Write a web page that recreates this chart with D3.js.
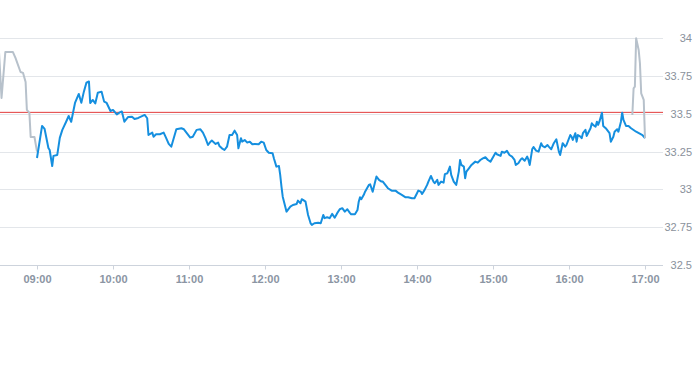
<!DOCTYPE html>
<html>
<head>
<meta charset="utf-8">
<script src="https://cdn.jsdelivr.net/npm/d3@7"></script>
<style>
  body { margin: 0; background: #fff; }
  text { font-family: "Liberation Sans", Arial, sans-serif; }
</style>
</head>
<body>
<script>
// pre-market segment (grey)
var preTimes = ["08:30", "08:32", "08:35", "08:41", "08:43", "08:47", "08:49", "08:51", "08:52", "08:54", "08:55", "08:58", "09:00"];
var preValues = [33.909, 33.605, 33.909, 33.909, 33.870, 33.777, 33.771, 33.711, 33.526, 33.506, 33.347, 33.347, 33.25];

// trading session (blue)
var mainTimes = [
    "09:00", "09:04", "09:06", "09:09", "09:10", "09:12", "09:13", "09:16", "09:18", "09:20",
    "09:23", "09:25", "09:27", "09:30", "09:33", "09:35", "09:37", "09:39", "09:41", "09:42",
    "09:44", "09:46", "09:48", "09:51", "09:53", "09:55", "09:58", "10:00", "10:03", "10:05",
    "10:07", "10:09", "10:12", "10:15", "10:17", "10:20", "10:25", "10:27", "10:28", "10:31",
    "10:32", "10:34", "10:37", "10:40", "10:42", "10:44", "10:46", "10:50", "10:54", "10:56",
    "11:01", "11:03", "11:06", "11:09", "11:11", "11:13", "11:15", "11:17", "11:18", "11:21",
    "11:23", "11:24", "11:26", "11:28", "11:30", "11:32", "11:34", "11:36", "11:38", "11:39",
    "11:41", "11:42", "11:44", "11:46", "11:48", "11:50", "11:52", "11:55", "11:57", "11:59",
    "12:01", "12:03", "12:06", "12:07", "12:09", "12:11", "12:12", "12:13", "12:14", "12:16",
    "12:17", "12:20", "12:22", "12:25", "12:26", "12:28", "12:29", "12:30", "12:32", "12:34",
    "12:36", "12:37", "12:39", "12:42", "12:44", "12:46", "12:47", "12:49", "12:51", "12:53",
    "12:55", "12:57", "12:59", "13:01", "13:03", "13:05", "13:07", "13:08", "13:11", "13:13",
    "13:14", "13:15", "13:16", "13:18", "13:19", "13:22", "13:23", "13:25", "13:27", "13:28",
    "13:30", "13:32", "13:33", "13:35", "13:37", "13:40", "13:43", "13:45", "13:48", "13:51",
    "13:53", "13:56", "13:58", "14:00", "14:01", "14:03", "14:04", "14:06", "14:08", "14:09",
    "14:11", "14:13", "14:14", "14:16", "14:17", "14:19", "14:21", "14:22", "14:24", "14:26",
    "14:27", "14:29", "14:31", "14:33", "14:34", "14:35", "14:37", "14:38", "14:39", "14:41",
    "14:43", "14:46", "14:48", "14:50", "14:52", "14:54", "14:56", "14:58", "15:00", "15:02",
    "15:03", "15:06", "15:07", "15:09", "15:11", "15:13", "15:15", "15:17", "15:18", "15:20",
    "15:22", "15:23", "15:25", "15:27", "15:28", "15:29", "15:31", "15:32", "15:34", "15:36",
    "15:38", "15:39", "15:41", "15:43", "15:44", "15:46", "15:48", "15:50", "15:52", "15:53",
    "15:55", "15:57", "15:58", "16:01", "16:02", "16:03", "16:05", "16:06", "16:07", "16:09",
    "16:10", "16:11", "16:13", "16:14", "16:15", "16:17", "16:18", "16:19", "16:21", "16:22",
    "16:23", "16:24", "16:26", "16:27", "16:29", "16:32", "16:33", "16:35", "16:36", "16:38",
    "16:39", "16:41", "16:42", "16:43", "16:45", "16:47", "16:49", "16:53", "16:58", "17:00"
];
var mainValues = [
    33.208, 33.420, 33.400, 33.274, 33.261, 33.155, 33.222, 33.228, 33.341, 33.394,
    33.448, 33.486, 33.448, 33.572, 33.632, 33.574, 33.647, 33.706, 33.714, 33.572,
    33.592, 33.569, 33.640, 33.647, 33.581, 33.572, 33.519, 33.526, 33.496, 33.508,
    33.516, 33.448, 33.480, 33.481, 33.466, 33.473, 33.493, 33.471, 33.360, 33.376,
    33.349, 33.365, 33.365, 33.376, 33.339, 33.301, 33.283, 33.398, 33.405, 33.398,
    33.343, 33.349, 33.394, 33.398, 33.376, 33.339, 33.294, 33.316, 33.323, 33.301,
    33.310, 33.288, 33.272, 33.261, 33.283, 33.360, 33.360, 33.389, 33.360, 33.272,
    33.339, 33.316, 33.327, 33.310, 33.316, 33.299, 33.301, 33.299, 33.316, 33.310,
    33.261, 33.243, 33.239, 33.206, 33.151, 33.155, 33.096, 33.019, 32.952, 32.886,
    32.853, 32.886, 32.897, 32.904, 32.926, 32.909, 32.935, 32.931, 32.919, 32.831,
    32.776, 32.765, 32.776, 32.780, 32.776, 32.831, 32.810, 32.816, 32.810, 32.838,
    32.813, 32.843, 32.869, 32.876, 32.853, 32.869, 32.845, 32.836, 32.836, 32.864,
    32.919, 32.948, 32.935, 32.964, 32.985, 33.030, 33.034, 32.985, 33.052, 33.085,
    33.063, 33.052, 33.052, 33.030, 33.008, 32.992, 32.992, 32.979, 32.964, 32.948,
    32.948, 32.942, 32.942, 32.975, 32.992, 32.985, 32.970, 32.997, 33.030, 33.052,
    33.089, 33.052, 33.041, 33.063, 33.030, 33.052, 33.045, 33.101, 33.107, 33.151,
    33.096, 33.052, 33.030, 33.118, 33.195, 33.162, 33.151, 33.074, 33.118, 33.140,
    33.162, 33.184, 33.177, 33.195, 33.206, 33.213, 33.195, 33.184, 33.213, 33.243,
    33.233, 33.222, 33.250, 33.243, 33.255, 33.228, 33.217, 33.195, 33.162, 33.173,
    33.200, 33.206, 33.190, 33.217, 33.195, 33.162, 33.268, 33.281, 33.257, 33.250,
    33.306, 33.288, 33.279, 33.294, 33.283, 33.266, 33.306, 33.332, 33.250, 33.228,
    33.306, 33.283, 33.294, 33.360, 33.349, 33.327, 33.372, 33.316, 33.360, 33.349,
    33.339, 33.372, 33.394, 33.354, 33.372, 33.405, 33.438, 33.427, 33.415, 33.448,
    33.427, 33.448, 33.508, 33.420, 33.405, 33.372, 33.316, 33.349, 33.382, 33.398,
    33.382, 33.448, 33.508, 33.460, 33.420, 33.420, 33.405, 33.382, 33.360, 33.339
];

// after-hours segment (grey)
var postTimes = ["16:50", "16:51", "16:52", "16:53", "16:55", "16:56", "16:57", "16:59", "17:00"];
var postValues = [33.493, 33.669, 33.680, 34.000, 33.923, 33.835, 33.636, 33.592, 33.339];

var previousClose = 33.51;

var yTickValues = [32.5, 32.75, 33, 33.25, 33.5, 33.75, 34];
var xTickLabels = ["09:00", "10:00", "11:00", "12:00", "13:00", "14:00", "15:00", "16:00", "17:00"];
var xStart = "08:30";
var xEnd = "17:15";

window.document.addEventListener('DOMContentLoaded', init, false);

function init() {
    var width = 693;
    var height = 365;
    var plot = {left: 0, right: 663, top: 38.3, bottom: 265};

    var parse = d3.timeParse('%H:%M');

    var x = d3.scaleTime()
        .domain([parse(xStart), parse(xEnd)])
        .range([-1, 664]);

    var y = d3.scaleLinear()
        .domain([32.5, 34])
        .range([plot.bottom, plot.top]);

    var svg = d3.select('body')
        .append('svg')
        .attr('width', width)
        .attr('height', height);

    drawGrid(svg, y, plot);
    drawXAxis(svg, x, plot, parse);
    drawYLabels(svg, y);

    svg.append('line')
        .attr('x1', plot.left)
        .attr('x2', plot.right)
        .attr('y1', y(previousClose))
        .attr('y2', y(previousClose))
        .attr('stroke', '#e23a3a')
        .attr('stroke-width', 1);

    var clip = svg.append('clipPath').attr('id', 'plot-clip')
        .append('rect')
        .attr('x', plot.left)
        .attr('y', 0)
        .attr('width', plot.right - plot.left)
        .attr('height', plot.bottom);

    var line = d3.line()
        .x((d) => x(d.t))
        .y((d) => y(d.v));

    var series = [
        {times: preTimes, values: preValues, color: '#b7c1cb'},
        {times: mainTimes, values: mainValues, color: '#158fdf'},
        {times: postTimes, values: postValues, color: '#b7c1cb'}
    ];

    series.forEach((s) => {
        var points = s.times.map((t, i) => ({t: parse(t), v: s.values[i]}));
        svg.append('path')
            .attr('clip-path', 'url(#plot-clip)')
            .attr('fill', 'none')
            .attr('stroke', s.color)
            .attr('stroke-width', 2)
            .attr('stroke-linejoin', 'round')
            .attr('d', line(points));
    });
}

function drawGrid(svg, y, plot) {
    svg.append('g')
        .selectAll('line')
        .data(yTickValues.slice(1))
        .enter()
            .append('line')
            .attr('x1', plot.left)
            .attr('x2', plot.right)
            .attr('y1', (d) => Math.round(y(d)) + 0.5)
            .attr('y2', (d) => Math.round(y(d)) + 0.5)
            .attr('stroke', '#e3e6ea')
            .attr('stroke-width', 1);
}

function drawXAxis(svg, x, plot, parse) {
    var axis = d3.axisBottom(x)
        .tickValues(xTickLabels.map((t) => parse(t)))
        .tickFormat(d3.timeFormat('%H:%M'))
        .tickSize(4)
        .tickSizeOuter(0);

    var g = svg.append('g')
        .attr('transform', `translate(0, ${plot.bottom + 0.5})`)
        .call(axis);

    g.select('.domain')
        .attr('d', `M${plot.left},0H${plot.right}`)
        .attr('stroke', '#cdd3dc');

    g.selectAll('.tick line')
        .attr('stroke', '#cdd3dc');

    g.selectAll('.tick text')
        .attr('y', 10)
        .attr('fill', '#8b95a3')
        .attr('font-size', 11)
        .attr('font-weight', 'bold')
        .attr('font-family', '"Liberation Sans", Arial, sans-serif');
}

function drawYLabels(svg, y) {
    svg.append('g')
        .selectAll('text')
        .data(yTickValues)
        .enter()
            .append('text')
            .attr('x', 692)
            .attr('y', (d) => y(d))
            .attr('dy', '.35em')
            .attr('text-anchor', 'end')
            .attr('fill', '#8a919b')
            .attr('font-size', 11)
            .text((d) => d3.format('')(d));
}
</script>
</body>
</html>
